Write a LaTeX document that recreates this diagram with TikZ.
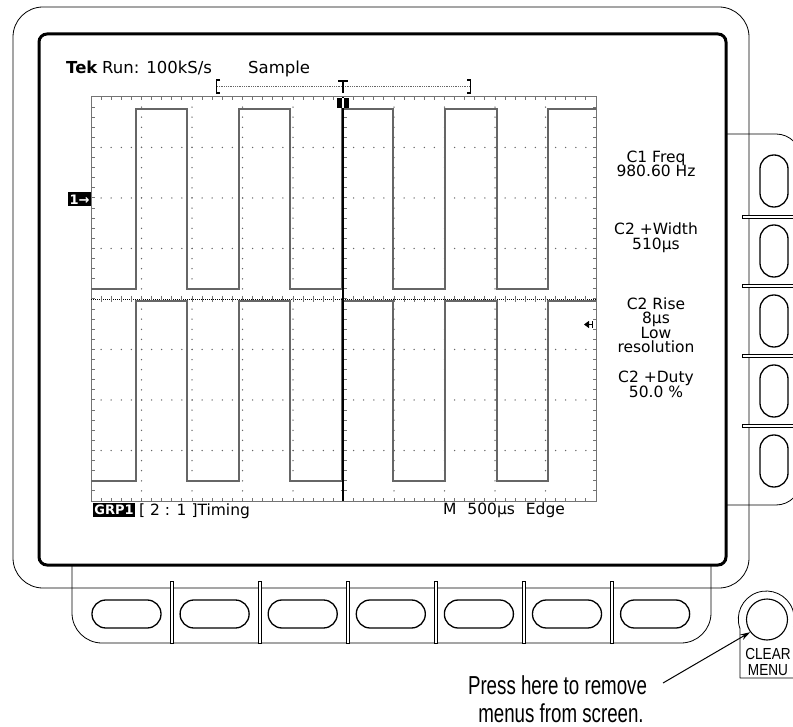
\documentclass[tikz,border=0pt]{standalone}
\usepackage{fontspec}
\usetikzlibrary{arrows.meta}
\newfontfamily\tekfont{DejaVu Sans}
\newfontfamily\capfont[FakeStretch=0.72]{Liberation Sans}
\newfontfamily\btnfont[FakeStretch=0.85]{Liberation Sans}
\begin{document}
\begin{tikzpicture}[x=1pt,y=-1pt,
  bezel/.style={line width=0.8pt, line join=round},
  screenframe/.style={draw, line width=3pt, rounded corners=8pt, fill=white},
  softkey/.style={draw, line width=1.3pt, rounded corners=13.8pt},
  divider/.style={draw, line width=0.7pt, fill=white},
  grat/.style={draw=black!55, line width=1pt},
  gdot/.style={fill=black!60},
  ctrline/.style={draw=black, line width=0.8pt, dash pattern=on 1pt off 1pt},
  wave/.style={draw=black!60, line width=1.4pt, line join=miter},
  scr/.style={font=\tekfont\fontsize{15.5}{15.5}\selectfont, inner sep=0pt, anchor=base},
  hdr/.style={font=\tekfont\fontsize{16.5}{16.5}\selectfont, inner sep=0pt, anchor=base west},
  inv/.style={fill=black, text=white, font=\tekfont\bfseries\fontsize{13}{13}\selectfont, inner xsep=1.2pt, inner ysep=0pt, minimum height=14pt},
  captext/.style={font=\capfont\fontsize{26}{26}\selectfont, inner sep=0pt, anchor=base},
  btn/.style={font=\btnfont\fontsize{16}{16}\selectfont, inner sep=0pt, anchor=base},
  callout/.style={-{Stealth[length=10pt,width=6pt]}, line width=1pt},
  marker/.style={line width=1.3pt},
]
\useasboundingbox (0,0) rectangle (793,727);
\clip (0,0) rectangle (793,727);

% outer bezel
\draw[bezel, rounded corners=30pt] (13,7) rectangle (749,588);
% side button panel
\draw[bezel, rounded corners=25pt] (720,134) -- (801,134) -- (801,505) -- (720,505);
% bottom button panel
\draw[bezel, rounded corners=30pt] (72,560) -- (72,643) -- (711,643) -- (711,560);
% dividers
\foreach \i in {0,...,5} \path[divider] ({170+88.1*\i},581) rectangle ++(3,62);
\foreach \y in {215,284.5,354.5,424.5} \path[divider] (742,\y) rectangle ++(60,3);
% soft keys
\foreach \i in {0,...,6} \path[softkey] ({92+88.1*\i},600) rectangle ++(69,28);
\foreach \i in {0,...,4} \path[softkey] (760,{155+70*\i}) rectangle ++(28,52);

% CLEAR MENU
\draw[bezel] (801,678) -- (740,678) -- (740,628.6) arc[start angle=160, end angle=375, radius=28];
\node[circle, draw, line width=1.1pt, minimum size=41pt, inner sep=0pt] (clearbtn) at (767,619.5) {};
\node[btn] (clearlbl) at (768,659) {CLEAR};
\node[btn] (menulbl) at (768,675) {MENU};

% screen frame
\draw[screenframe] (39,34) rectangle (726,565);

% graticule
\draw[grat] (91,97) rectangle (596,501);
\foreach \i in {1,...,49} {
  \draw[grat] ({91+10.1*\i},97) -- ++(0,3.5);
  \draw[grat] ({91+10.1*\i},501) -- ++(0,-3.5);
}
\foreach \j in {1,...,39} {
  \draw[grat] (91,{97+10.1*\j}) -- ++(3.5,0);
  \draw[grat] (596,{97+10.1*\j}) -- ++(-3.5,0);
}
\foreach \k in {1,2,3,4,6,7,8,9}
  \foreach \j in {1,...,39}
    \fill[gdot] ({91+50.5*\k},{97+10.1*\j}) circle[radius=0.75];
\foreach \k in {1,2,3,5,6,7}
  \foreach \j in {1,...,49}
    \fill[gdot] ({91+10.1*\j},{97+50.5*\k}) circle[radius=0.75];
\draw[ctrline] (91,299) -- (596,299);
\draw[ctrline] (343.5,97) -- (343.5,501);
\foreach \i in {1,...,49} \draw[grat] ({91+10.1*\i},296) -- ++(0,6);
\foreach \j in {1,...,39} \draw[grat] (340.5,{97+10.1*\j}) -- ++(6,0);

% waveforms
\draw[wave] (91,289) -- (136,289) -- (136,109) -- (187,109) -- (187,289) -- (239,289) -- (239,109) -- (290,109) -- (290,289) -- (342,289) -- (342,109) -- (393,109) -- (393,289) -- (445,289) -- (445,109) -- (497,109) -- (497,289) -- (548,289) -- (548,109) -- (596,109);
\draw[wave] (91,481) -- (136,481) -- (136,301) -- (187,301) -- (187,481) -- (239,481) -- (239,301) -- (290,301) -- (290,481) -- (342,481) -- (342,301) -- (393,301) -- (393,481) -- (445,481) -- (445,301) -- (497,301) -- (497,481) -- (548,481) -- (548,301) -- (596,301);
\draw[line width=1.3pt] (343,97) -- (343,501);

% record view bar and trigger markers
\draw[black!60, line width=0.8pt, dash pattern=on 1pt off 0.8pt] (217,86.5) -- (470,86.5);
\draw[marker] (220,80) -- (216.5,80) -- (216.5,93) -- (220,93);
\draw[marker] (467,80) -- (470.5,80) -- (470.5,93) -- (467,93);
\draw[marker] (338,81) -- (348,81);
\draw[marker] (343,81) -- (343,93);
\fill (337,98) rectangle (349,108);
\draw[white, line width=1.5pt] (343,98) -- (343,108);
\draw[-{Triangle[length=5pt,width=7pt]}, line width=1.2pt] (592.5,324.5) -- (584,324.5);
\draw[line width=1pt] (592.5,321) -- (592.5,328);

% header text
\node[hdr, font=\tekfont\bfseries\fontsize{16.5}{16.5}\selectfont] (tek) at (66,74) {Tek};
\node[hdr] (run) at (102,74) {Run: 100kS/s};
\node[hdr] (mode) at (248,74) {Sample};

% channel marker
\node[inv, minimum width=21pt, minimum height=14pt] (ch1) at (79.5,199.5) {1→};

% side menu readouts
\node[scr] (m1a) at (656,163) {C1 Freq};
\node[scr] (m1b) at (656,177) {980.60 Hz};
\node[scr] (m2a) at (656,235) {C2 +Width};
\node[scr] (m2b) at (656,249.5) {510µs};
\node[scr] (m3a) at (656,309.5) {C2 Rise};
\node[scr] (m3b) at (656,324) {8µs};
\node[scr] (m3c) at (656,338.5) {Low};
\node[scr] (m3d) at (656,353) {resolution};
\node[scr] (m4a) at (656,383) {C2 +Duty};
\node[scr] (m4b) at (656,397.5) {50.0 \%};

% bottom readouts
\node[inv] (grp) at (114,510) {GRP1};
\node[scr, anchor=base west] (timing) at (139,515) {[ 2 : 1 ]Timing};
\node[scr, anchor=base west] (tbase) at (443,514) {M\hspace{6pt} 500µs\hspace{6pt} Edge};

% caption and callout
\node[captext] (cap1) at (557.5,694) {Press here to remove};
\node[captext] (cap2) at (561,722) {menus from screen.};
\coordinate (callstart) at (663,683);
\draw[callout] (callstart) -- (clearbtn.217);
\end{tikzpicture}
\end{document}
